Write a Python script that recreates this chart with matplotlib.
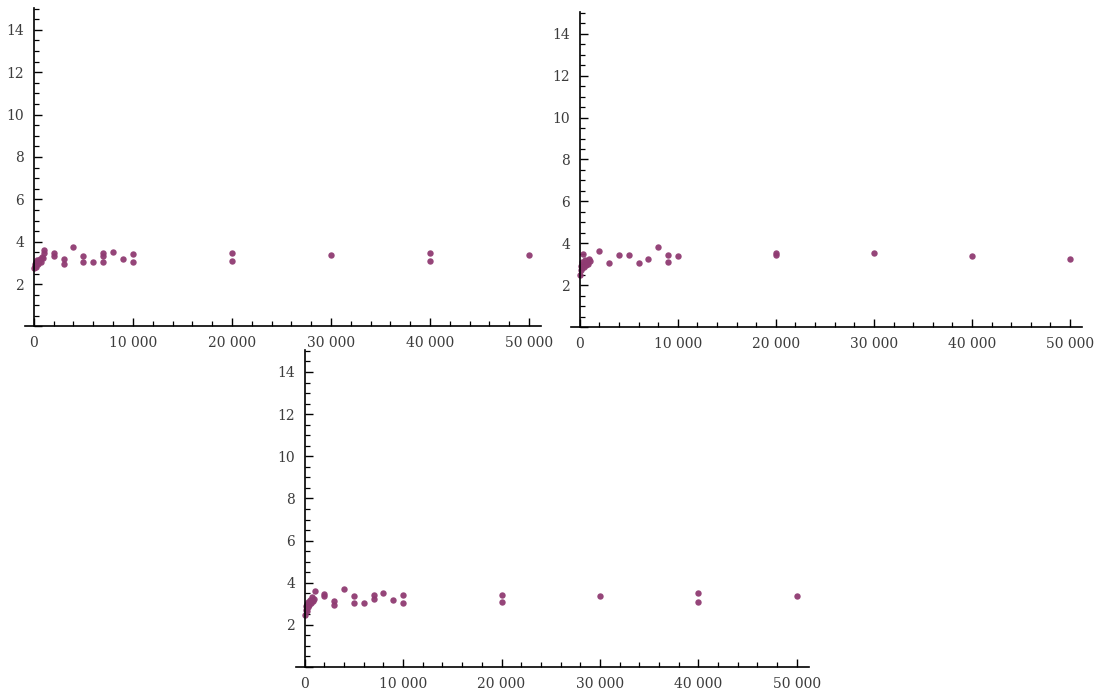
import matplotlib

matplotlib.use("Agg")
import matplotlib.pyplot as plt
from matplotlib.ticker import FuncFormatter, MultipleLocator

# panel 1 (top left)
p1_x = [50, 100, 150, 200, 250, 300, 350, 400, 500, 600, 700, 800, 900, 1000, 1000,
        2000, 2000, 3000, 3000, 4000, 5000, 5000, 6000, 7000, 7000, 7000, 8000, 9000,
        10000, 10000, 20000, 20000, 30000, 40000, 40000, 50000]
p1_y = [2.75, 2.85, 2.95, 2.8, 3.05, 3.0, 3.15, 2.95, 3.1, 3.2, 3.05, 3.3, 3.25, 3.45, 3.6,
        3.45, 3.33, 3.17, 2.95, 3.74, 3.33, 3.03, 3.03, 3.45, 3.33, 3.03, 3.5, 3.17,
        3.42, 3.03, 3.45, 3.1, 3.36, 3.48, 3.1, 3.38]

# panel 2 (top right)
p2_x = [50, 100, 150, 200, 250, 300, 350, 400, 500, 600, 700, 800, 900, 1000,
        2000, 3000, 4000, 5000, 6000, 7000, 8000, 9000, 9000, 10000,
        20000, 20000, 30000, 40000, 50000]
p2_y = [2.5, 2.7, 2.9, 3.1, 2.8, 3.5, 3.0, 2.85, 3.2, 2.95, 3.1, 3.0, 3.25, 3.15,
        3.65, 3.05, 3.45, 3.42, 3.05, 3.27, 3.8, 3.42, 3.12, 3.37,
        3.52, 3.42, 3.53, 3.41, 3.25]

# panel 3 (bottom)
p3_x = [50, 100, 150, 200, 250, 300, 350, 400, 500, 600, 700, 800, 900, 1000,
        2000, 2000, 3000, 3000, 4000, 5000, 5000, 6000, 7000, 7000, 8000, 9000,
        10000, 10000, 20000, 20000, 30000, 40000, 40000, 50000]
p3_y = [2.45, 2.7, 2.9, 2.65, 3.0, 2.85, 3.1, 2.95, 3.2, 3.05, 3.3, 3.15, 3.25, 3.6,
        3.45, 3.35, 3.12, 2.95, 3.7, 3.35, 3.05, 3.05, 3.4, 3.25, 3.5, 3.17,
        3.4, 3.05, 3.41, 3.1, 3.36, 3.49, 3.1, 3.39]

PANELS = [
    (p1_x, p1_y, [0.0227, 0.5275, 0.469, 0.4615]),
    (p2_x, p2_y, [0.519, 0.5268, 0.4645, 0.456]),
    (p3_x, p3_y, [0.269, 0.0347, 0.466, 0.459]),
]

POINT_COLOR = "#8f3b72"
TEXT_COLOR = "#3c3c3c"


def thousands(value, _pos):
    return f"{int(value):,}".replace(",", " ")


def draw_panel(ax, xs, ys) -> None:
    ax.plot(xs, ys, linestyle="none", marker="o", markersize=4.6,
            color=POINT_COLOR, markeredgewidth=0, alpha=0.95)
    ax.set_xlim(-900, 51200)
    ax.set_ylim(0, 15.05)
    for side in ("top", "right"):
        ax.spines[side].set_visible(False)
    ax.spines["left"].set_position(("data", 0))
    ax.spines["bottom"].set_position(("data", 0))
    for side in ("left", "bottom"):
        ax.spines[side].set_linewidth(1.2)
    ax.xaxis.set_major_locator(MultipleLocator(10000))
    ax.xaxis.set_minor_locator(MultipleLocator(2000))
    ax.yaxis.set_major_locator(MultipleLocator(2))
    ax.yaxis.set_minor_locator(MultipleLocator(0.5))
    ax.xaxis.set_major_formatter(FuncFormatter(thousands))
    ax.yaxis.set_major_formatter(FuncFormatter(lambda v, p: "" if v == 0 else f"{int(v)}"))
    ax.tick_params(which="major", direction="in", length=6, width=1.0,
                   labelsize=10, labelcolor=TEXT_COLOR, pad=7)
    ax.tick_params(which="minor", direction="in", length=3.5, width=0.9)
    for label in ax.get_xticklabels() + ax.get_yticklabels():
        label.set_fontfamily("DejaVu Serif")
    ax.patch.set_visible(False)


fig = plt.figure(figsize=(11, 6.91), dpi=100)
for xs, ys, rect in PANELS:
    ax = fig.add_axes(rect)
    draw_panel(ax, xs, ys)

fig.savefig("out.png", dpi=100)
